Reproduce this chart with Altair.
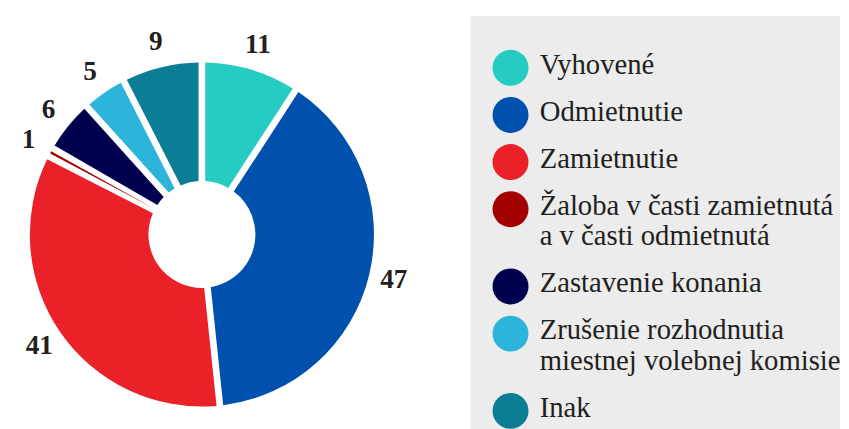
import altair as alt
import pandas as pd

# ---- data ----
categories = [
    "Vyhovené",
    "Odmietnutie",
    "Zamietnutie",
    "Žaloba v časti zamietnutá a v časti odmietnutá",
    "Zastavenie konania",
    "Zrušenie rozhodnutia miestnej volebnej komisie",
    "Inak",
]
legend_lines = [
    ["Vyhovené"],
    ["Odmietnutie"],
    ["Zamietnutie"],
    ["Žaloba v časti zamietnutá", "a v časti odmietnutá"],
    ["Zastavenie konania"],
    ["Zrušenie rozhodnutia", "miestnej volebnej komisie"],
    ["Inak"],
]
values = [11, 47, 41, 1, 6, 5, 9]
colors = ["#26CCC2", "#0050AE", "#EB2129", "#A30000", "#00004F", "#2DB4DA", "#0B7E96"]

SERIF = "Liberation Serif"
TEXT_COLOR = "#231f20"
PANEL_H = 449

color_scale = alt.Scale(domain=categories, range=colors)

# ---- donut ----
donut_df = pd.DataFrame({
    "kategoria": categories,
    "pocet": values,
    "poradie": list(range(len(categories))),
})

base = alt.Chart(donut_df).encode(
    theta=alt.Theta("pocet:Q", stack=True),
    order=alt.Order("poradie:Q", sort="ascending"),
)
arcs = base.mark_arc(innerRadius=55, outerRadius=177, padAngle=0.037).encode(
    color=alt.Color("kategoria:N", scale=color_scale, legend=None)
)
nums = base.mark_text(
    radius=203, font=SERIF, fontSize=28, fontWeight="bold", color=TEXT_COLOR
).encode(text="pocet:Q", detail="kategoria:N")

donut = alt.layer(arcs, nums).properties(width=399, height=PANEL_H)

# ---- legend panel (built from the same categories) ----
P = 48.5   # pitch between entries
L = 31.0   # line height inside an entry
dot_rows, line_rows = [], []
extra = 0
for k, (cat, lines) in enumerate(zip(categories, legend_lines)):
    first = k + extra * L / P
    dot_rows.append({"kategoria": cat, "pos": first})
    for j, line in enumerate(lines):
        line_rows.append({"riadok": line, "pos": first + j * L / P})
    extra += len(lines) - 1
dot_df = pd.DataFrame(dot_rows)
line_df = pd.DataFrame(line_rows)

TOP = 50
yscale = alt.Scale(domain=[-TOP / P, (PANEL_H - TOP) / P], reverse=True, nice=False, zero=False)

dots = alt.Chart(dot_df).mark_circle(size=1369, opacity=1, yOffset=3).encode(
    x=alt.value(41),
    y=alt.Y("pos:Q", scale=yscale, axis=None),
    color=alt.Color("kategoria:N", scale=color_scale, legend=None),
)
texts = alt.Chart(line_df).mark_text(
    align="left", baseline="middle", font=SERIF, fontSize=29.5, color=TEXT_COLOR
).encode(
    x=alt.value(71),
    y=alt.Y("pos:Q", scale=yscale, axis=None),
    text="riadok:N",
)
legend = alt.layer(dots, texts).properties(
    width=380, height=PANEL_H,
    view=alt.ViewBackground(fill="#EBECEB", strokeWidth=0),
)

chart = (
    alt.hconcat(donut, legend, spacing=65)
    .properties(padding={"left": 0, "top": 2, "right": 0, "bottom": 0}, background="white")
    .configure_view(strokeWidth=0)
)

chart.save("out.html", embed_options={"renderer": "svg", "actions": False})
